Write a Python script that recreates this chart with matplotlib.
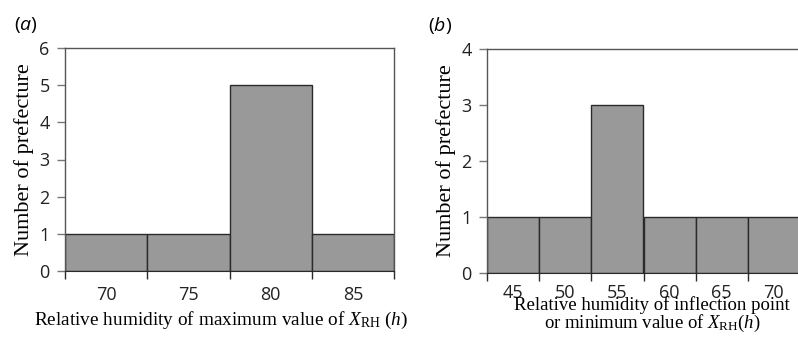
import numpy as np
import matplotlib.pyplot as plt

# panel (a): relative humidity of maximum value of X_RH
rh_max = [70, 75, 80, 85]
count_max = [1, 1, 5, 1]

# panel (b): relative humidity of inflection point / minimum value
rh_min = [45, 50, 55, 60, 65, 70]
count_min = [1, 1, 3, 1, 1, 1]

bar_color = '#999999'
edge_color = '#2a2a2a'
tick_font = 'Open Sans'
label_font = 'Liberation Serif'

plt.rcParams['mathtext.fontset'] = 'custom'
plt.rcParams['mathtext.rm'] = 'Liberation Serif'
plt.rcParams['mathtext.it'] = 'Liberation Serif:italic'
plt.rcParams['mathtext.sf'] = 'Open Sans:italic'


def draw_hist(ax, centers, counts, ymax, xpad):
    ax.bar(centers, counts, width=5, color=bar_color, edgecolor=edge_color, linewidth=1.0)
    ax.set_xlim(centers[0] - 2.5, centers[-1] + 2.5)
    ax.set_ylim(0, ymax)
    ax.set_yticks(range(ymax + 1))
    ax.set_xticks(centers)
    edges = np.append(np.array(centers) - 2.5, centers[-1] + 2.5)
    ax.set_xticks(edges, minor=True)
    ax.tick_params(axis='x', which='major', length=0, pad=xpad)
    ax.tick_params(axis='x', which='minor', length=6, width=1.0, color=edge_color, direction='out')
    ax.tick_params(axis='y', length=6, width=1.0, color='#777777', pad=5)
    for lab in ax.get_xticklabels() + ax.get_yticklabels():
        lab.set_fontfamily(tick_font)
        lab.set_fontsize(13)
        lab.set_color('#222222')
    for side in ['top', 'right', 'left']:
        ax.spines[side].set_color('#555555')
        ax.spines[side].set_linewidth(1.0)
    ax.spines['bottom'].set_color(edge_color)
    ax.set_ylabel('Number of prefecture', fontfamily=label_font, fontsize=16, labelpad=4)


fig = plt.figure(figsize=(7.98, 3.43), dpi=100)

ax1 = fig.add_axes([65 / 798, 1 - 271 / 343, (394 - 65) / 798, (271 - 48) / 343])
draw_hist(ax1, rh_max, count_max, 6, 11)
fig.text(221 / 798, 1 - 320 / 343,
         r'Relative humidity of maximum value of $X_{\mathrm{RH}}$ ($h$)',
         fontfamily=label_font, fontsize=13.9, ha='center', va='center')
fig.text(14 / 798, 1 - 25 / 343, r'($\mathsf{a}$)', fontfamily=tick_font, fontsize=14, va='center')

ax2 = fig.add_axes([487 / 798, 1 - 273 / 343, (800 - 487) / 798, (273 - 49) / 343])
draw_hist(ax2, rh_min, count_min, 4, 8)
fig.text(652 / 798, 1 - 315 / 343,
         'Relative humidity of inflection point\n'
         r'or minimum value of $X_{\mathrm{RH}}$($h$)',
         fontfamily=label_font, fontsize=13.5, ha='center', va='center', linespacing=0.95)
fig.text(428 / 798, 1 - 25 / 343, r'($\mathsf{b}$)', fontfamily=tick_font, fontsize=14, va='center')

fig.savefig('out.png', dpi=100)
